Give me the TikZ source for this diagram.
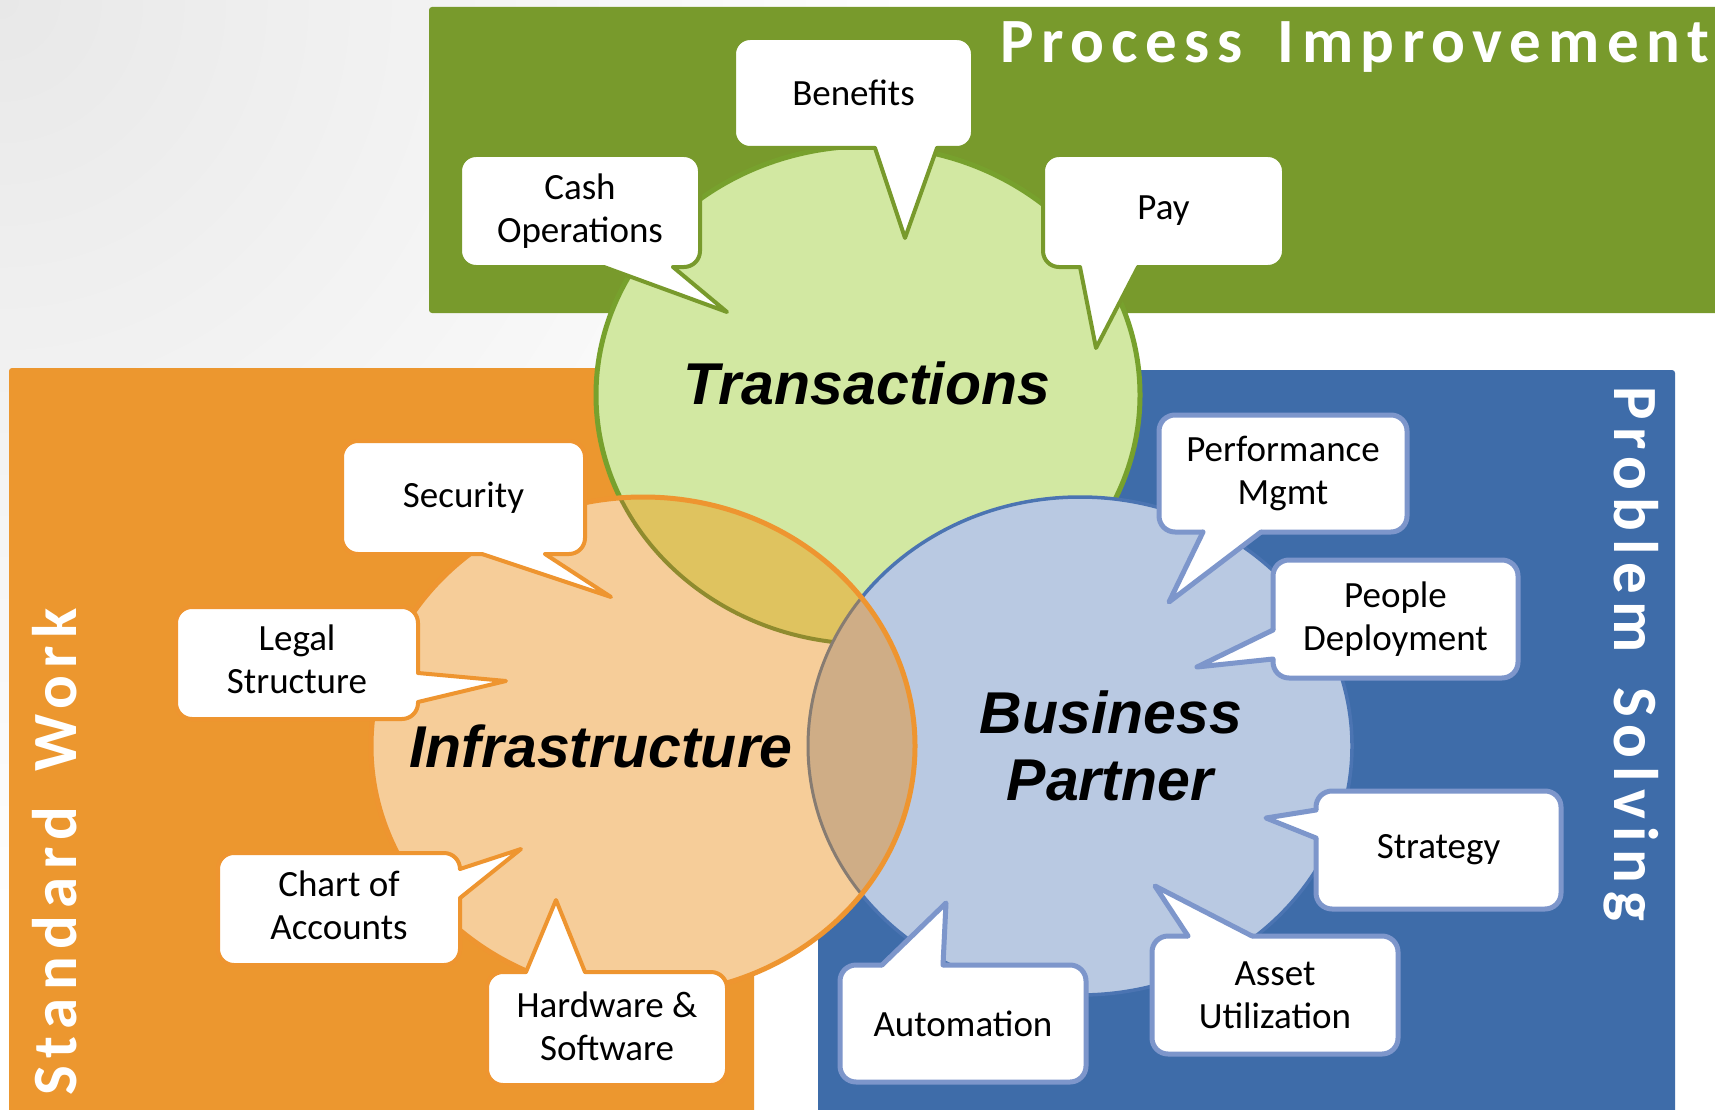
\documentclass[tikz,border=0pt]{standalone}
\usepackage{fontspec}
\setmainfont{Carlito}
\newfontfamily\labfont{Liberation Sans}
\newfontfamily\titlefont[LetterSpace=12]{Carlito}
\usetikzlibrary{calc}
\definecolor{greenbg}{HTML}{789A2C}
\definecolor{orangebg}{HTML}{EC972F}
\definecolor{bluebg}{HTML}{3E6CA9}
\definecolor{tfill}{HTML}{D2E8A2}
\definecolor{tborder}{HTML}{77A12D}
\definecolor{ifill}{HTML}{F6CD99}
\definecolor{iborder}{HTML}{EE9530}
\definecolor{bfill}{HTML}{B9C9E2}
\definecolor{bborder}{HTML}{4B74B2}
\definecolor{lensTI}{HTML}{DFC35F}
\definecolor{olivearc}{HTML}{8F8B2E}
\definecolor{lensIB}{HTML}{CFAD86}
\definecolor{grayarc}{HTML}{877C72}
\definecolor{bubblue}{HTML}{7D96CB}
\newcommand\bubtail[6]{%
  \fill[white] ($#3+#6$) -- #3 -- #4 -- #5 -- ($#5+#6$) -- cycle;
  \draw[#1, line width=#2, line join=round, line cap=round] #3 -- #4 -- #5;}
\newcommand\wgap{\hspace{13pt} }
\begin{document}
\begin{tikzpicture}[x=1pt,y=-1pt,
  bub/.style={draw=#1, fill=white, line width=4pt, rounded corners=16pt, inner sep=0pt,
    align=center, text=black, font=\fontsize{37}{43}\selectfont},
  lab/.style={inner sep=0pt, anchor=base, text=black, font=\labfont\bfseries\itshape\fontsize{59}{67}\selectfont},
  ttl/.style={inner sep=0pt, anchor=base west, text=white, font=\titlefont\bfseries\fontsize{63}{70}\selectfont},
  ell/.style={x radius=272, y radius=249}]
\useasboundingbox (0,0) rectangle (1715,1110);
% background
\fill[white] (0,0) rectangle (1715,1110);
\begin{scope}
  \clip (0,0) rectangle (1715,1110);
  \shade[inner color=black!9, outer color=white] (0,0) circle (950);
\end{scope}
% panels
\fill[greenbg, rounded corners=3pt] (429,7) rectangle (1730,313);
\fill[orangebg, rounded corners=3pt] (9,368) rectangle (754,1130);
\fill[bluebg, rounded corners=3pt] (818,370) rectangle (1675,1130);
% circles
\filldraw[fill=tfill, draw=tborder, line width=5pt] (868,395) ellipse [ell];
\filldraw[fill=bfill, draw=bborder, line width=3.5pt] (1080,746) ellipse [ell];
\fill[ifill] (643,746) ellipse [ell];
\begin{scope}
  \clip (643,746) ellipse [ell];
  \filldraw[fill=lensTI, draw=olivearc, line width=4pt] (868,395) ellipse [ell];
  \filldraw[fill=lensIB, draw=grayarc, line width=3pt] (1080,746) ellipse [ell];
\end{scope}
\draw[iborder, line width=5pt] (643,746) ellipse [ell];
% circle labels
\node[lab] (trans) at (867,404) {Transactions};
\node[lab] (infra) at (601,767) {Infrastructure};
\node[lab] (bus) at (1111,733) {Business};
\node[lab] (partner) at (1110,800) {Partner};
% titles
\node[ttl] (pi) at (1000,63) {Process\wgap Improvement};
\node[ttl, rotate=90] (sw) at (76,1096) {Standard\wgap Work};
\node[ttl, rotate=-90] (ps) at (1614,386) {Problem\wgap Solving};
% green bubbles
\node[bub=greenbg, minimum width=239pt, minimum height=110pt] (benefits) at (853.5,93) {Benefits};
\bubtail{greenbg}{4pt}{(875,148)}{(905,238)}{(937,148)}{(0,-7)}
\node[bub=greenbg, minimum width=240pt, minimum height=112pt] (cash) at (580,211) {Cash\\Operations};
\bubtail{greenbg}{4pt}{(604,267)}{(727,312)}{(673,267)}{(0,-7)}
\node[bub=greenbg, minimum width=241pt, minimum height=112pt] (pay) at (1163.5,211) {Pay};
\bubtail{greenbg}{4pt}{(1080,267)}{(1096,348)}{(1138,267)}{(0,-7)}
% blue bubbles
\node[bub=bubblue, line width=5pt, minimum width=248pt, minimum height=117pt] (perf) at (1283,473.5) {Performance\\Mgmt};
\bubtail{bubblue}{5pt}{(1203,532)}{(1169,602)}{(1261,532)}{(0,-7)}
\node[bub=bubblue, line width=5pt, minimum width=245pt, minimum height=118pt] (people) at (1395.5,619) {People\\Deployment};
\bubtail{bubblue}{5pt}{(1273,630)}{(1197,667)}{(1273,659)}{(7,0)}
\node[bub=bubblue, line width=5pt, minimum width=245pt, minimum height=118pt] (strategy) at (1438.5,850) {Strategy};
\bubtail{bubblue}{5pt}{(1316,810)}{(1266,818)}{(1316,838)}{(7,0)}
\node[bub=bubblue, line width=5pt, minimum width=246pt, minimum height=118pt] (asset) at (1275,995) {Asset\\Utilization};
\bubtail{bubblue}{5pt}{(1188,936)}{(1155,886)}{(1252,936)}{(0,7)}
\node[bub=bubblue, line width=5pt, minimum width=246pt, minimum height=117pt] (auto) at (963,1023.5) {Automation};
\bubtail{bubblue}{5pt}{(882,965)}{(946,903)}{(943,965)}{(0,7)}
% orange bubbles
\node[bub=iborder, minimum width=243pt, minimum height=113pt] (security) at (463.5,497.5) {Security};
\bubtail{iborder}{4pt}{(482,554)}{(611,597)}{(545,554)}{(0,-7)}
\node[bub=iborder, text depth=7pt, minimum width=242pt, minimum height=112pt] (legal) at (297,663) {Legal\\Structure};
\bubtail{iborder}{4pt}{(418,673)}{(506,681)}{(418,702)}{(-7,0)}
\node[bub=iborder, text depth=7pt, minimum width=242pt, minimum height=112pt] (chart) at (339,909) {Chart of\\Accounts};
\bubtail{iborder}{4pt}{(460,869)}{(521,849)}{(460,898)}{(-7,0)}
\node[bub=iborder, text depth=5pt, minimum width=240pt, minimum height=113pt] (hw) at (607,1028.5) {Hardware \&\\Software};
\bubtail{iborder}{4pt}{(526,972)}{(556,900)}{(585,972)}{(0,7)}
\end{tikzpicture}
\end{document}
